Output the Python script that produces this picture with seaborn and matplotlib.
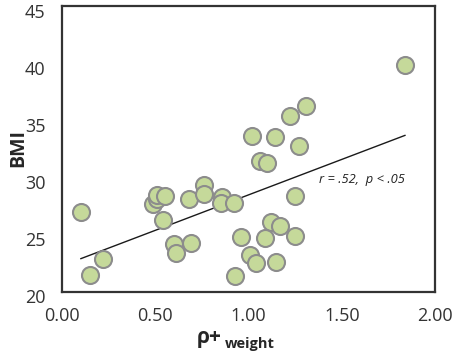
import matplotlib
matplotlib.use("Agg")
import matplotlib.pyplot as plt
import matplotlib.transforms as mtransforms
import seaborn as sns
import pandas as pd

rho_weight = [0.10, 0.15, 0.22, 0.49, 0.51, 0.51, 0.55, 0.54, 0.60, 0.61,
              0.69, 0.68, 0.76, 0.76, 0.86, 0.85, 0.92, 0.96, 0.93, 1.01,
              1.04, 1.25, 1.12, 1.17, 1.09, 1.25, 1.15, 1.84, 1.31, 1.22,
              1.02, 1.14, 1.27, 1.06, 1.10]
bmi = [27.0, 21.5, 22.85, 27.7, 28.1, 28.5, 28.4, 26.3, 24.2, 23.4,
       24.3, 28.1, 29.4, 28.6, 28.3, 27.8, 27.8, 24.8, 21.4, 23.2,
       22.5, 28.4, 26.1, 25.8, 24.7, 24.9, 22.6, 39.9, 36.3, 35.4,
       33.65, 33.6, 32.8, 31.5, 31.3]
x_ticks = [0.0, 0.5, 1.0, 1.5, 2.0]
x_tick_labels = ["0.00", "0.50", "1.00", "1.50", "2.00"]
y_ticks = [20, 25, 30, 35, 40, 45]
stat_text = "r = .52,  p < .05"

df = pd.DataFrame({"rho": rho_weight, "bmi": bmi})

sns.set_style("white")
plt.rcParams["font.family"] = ["Open Sans", "DejaVu Sans"]

fig = plt.figure(figsize=(4.54, 3.57), dpi=100)
ax = fig.add_axes([0.1366, 0.182, 0.8216, 0.800])

sns.regplot(data=df, x="rho", y="bmi", ax=ax, ci=None, truncate=True,
            scatter_kws=dict(s=150, color="#c5d99a", edgecolor="#8c8c8c",
                             linewidths=1.5, alpha=1, zorder=3),
            line_kws=dict(color="#1a1a1a", linewidth=1.0, zorder=2))

ax.set_xlim(0, 2)
ax.set_ylim(20, 45)
ax.set_xticks(x_ticks)
ax.set_xticklabels(x_tick_labels)
ax.set_yticks(y_ticks)
ax.tick_params(axis="both", length=0, labelsize=13, colors="#333333")
ax.tick_params(axis="x", pad=11)
ax.tick_params(axis="y", pad=12)
offset = mtransforms.ScaledTranslation(0, -3 / 72, fig.dpi_scale_trans)
for lbl in ax.get_yticklabels():
    lbl.set_transform(lbl.get_transform() + offset)
for s in ax.spines.values():
    s.set_color("#333333")
    s.set_linewidth(1.6)
ax.set_xlabel("")
ax.set_ylabel("")
fig.text(18 / 454, 1 - 148 / 357, "BMI", fontsize=14, fontweight="bold",
         rotation=90, ha="center", va="center")

ax.text(0.69, 0.394, stat_text, transform=ax.transAxes, fontsize=9.3,
        style="italic", color="#222222", va="center")

fig.text(197 / 454, 1 - 343 / 357, "ρ+", fontsize=15, fontweight="bold",
         ha="left", va="baseline")
fig.text(225 / 454, 1 - 337 / 357, "weight", fontsize=10.5, fontweight="bold",
         ha="left", va="top")

fig.savefig("out.png", dpi=100)
